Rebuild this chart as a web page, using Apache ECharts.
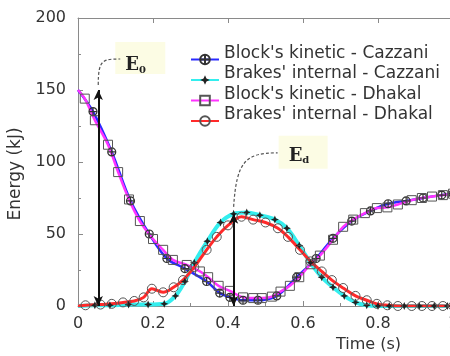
<!DOCTYPE html>
<html>
<head>
<meta charset="utf-8">
<script src="https://cdn.jsdelivr.net/npm/echarts@6/dist/echarts.min.js"></script>
<style>
  html, body { margin: 0; padding: 0; background: #fff; }
  #chart { width: 450px; height: 356px; }
</style>
</head>
<body>
<div id="chart"></div>
<script>
var seriesNames = ["Block's kinetic - Cazzani", "Brakes' internal - Cazzani", "Block's kinetic - Dhakal", "Brakes' internal - Dhakal"];

var kinCazzaniT = [0, 0.04, 0.09, 0.14, 0.19, 0.237, 0.285, 0.343, 0.378, 0.405, 0.44, 0.48, 0.53, 0.583, 0.635, 0.68, 0.73, 0.78, 0.827, 0.875, 0.92, 0.97, 1.0];
var kinCazzaniE = [150, 135, 107, 73, 50, 33, 26, 17, 9, 6, 4, 4, 7, 20, 33, 47, 59, 66, 71, 73, 75, 77, 78];

var brkCazzaniT = [0, 0.045, 0.085, 0.135, 0.187, 0.23, 0.26, 0.285, 0.31, 0.345, 0.38, 0.415, 0.45, 0.485, 0.525, 0.557, 0.59, 0.62, 0.65, 0.68, 0.71, 0.74, 0.77, 0.8, 0.83, 0.87, 0.91, 0.95, 0.985];
var brkCazzaniE = [0, 0.5, 0.5, 1, 1, 1.5, 7, 17, 30, 45, 58, 64, 65, 63, 60, 54, 42, 30, 20, 13, 7, 2.5, 0.5, 0, 0, 0, 0, 0, 0];

var kinDhakalT = [0, 0.018, 0.045, 0.08, 0.107, 0.136, 0.165, 0.2, 0.227, 0.253, 0.29, 0.325, 0.347, 0.375, 0.405, 0.44, 0.467, 0.49, 0.517, 0.54, 0.565, 0.59, 0.62, 0.645, 0.68, 0.707, 0.734, 0.765, 0.797, 0.825, 0.853, 0.89, 0.917, 0.944, 0.973, 1.0];
var kinDhakalE = [150, 144, 129, 112, 93, 74, 59, 46.5, 39, 32, 28.5, 24, 20, 14, 10.5, 6, 5.5, 5.5, 6.5, 10, 14, 20, 29, 35, 46, 55, 60, 64.5, 68, 68.5, 70.5, 73.5, 75, 76, 77, 78];

var brkDhakalT = [0, 0.02, 0.06, 0.09, 0.12, 0.15, 0.175, 0.197, 0.227, 0.255, 0.28, 0.31, 0.343, 0.37, 0.4, 0.436, 0.467, 0.5, 0.533, 0.56, 0.592, 0.62, 0.65, 0.677, 0.707, 0.74, 0.77, 0.797, 0.825, 0.853, 0.89, 0.917, 0.944, 0.973, 1.0];
var brkDhakalE = [0, 0.5, 1, 1.5, 2.5, 3.5, 6, 12, 9.5, 13, 18, 27, 39, 48, 56, 62, 60, 58, 54, 48, 39, 31, 24, 18, 12.5, 7, 4, 1.5, 0.5, 0, 0, 0, 0, 0, 0];

// annotated points: E0 and Ed
var e0Point = [0.054, 150];
var edPoint = [0.415, 64];

var xTicks = [0, 0.2, 0.4, 0.6, 0.8, 1];
var yTicks = [0, 50, 100, 150, 200];

function pairs(t, e) {
  return t.map(function(v, i) {
    if (v === 0) return { value: [v, e[i]], symbol: 'none' };
    return [v, e[i]];
  });
}

var font = 'DejaVu Sans';
var axisGray = '#8a8a8a';
var crossCircle = 'path://M0,10 A10,10 0 1,1 20,10 A10,10 0 1,1 0,10 Z M0,10 L20,10 M10,0 L10,20';
var starDiamond = 'path://M10,0 L13,7 L20,10 L13,13 L10,20 L7,13 L0,10 L7,7 Z';

var chart = echarts.init(document.getElementById('chart'), null, { renderer: 'canvas' });

chart.setOption({
  animation: false,
  backgroundColor: '#fff',
  grid: { left: 78, right: -3, top: 18, bottom: 50, outerBoundsMode: 'none', containLabel: false },
  legend: {
    orient: 'vertical',
    left: 190,
    top: 45,
    padding: 0,
    itemWidth: 28,
    itemHeight: 12,
    itemGap: -3.5,
    data: seriesNames,
    // a short blank second line lifts the name above the sample line, as in the source figure
    formatter: function(name) { return '{t|' + name + '}\n{s| }'; },
    textStyle: {
      fontFamily: font, fontSize: 17, color: '#333',
      rich: {
        t: { fontFamily: font, fontSize: 17, color: '#333', lineHeight: 17 },
        s: { fontSize: 2, lineHeight: 12 }
      }
    }
  },
  xAxis: [{
    type: 'value',
    min: xTicks[0],
    max: xTicks[xTicks.length - 1],
    interval: 0.2,
    name: 'Time (s)',
    nameLocation: 'middle',
    nameGap: 31,
    nameTextStyle: { fontFamily: font, fontSize: 16, color: '#333', padding: [0, 0, 0, 206] },
    axisLine: { lineStyle: { color: axisGray } },
    axisTick: { inside: true, length: 5, lineStyle: { color: axisGray } },
    minorTick: { show: true, splitNumber: 2, length: 3, lineStyle: { color: axisGray } },
    splitLine: { show: false },
    axisLabel: {
      fontFamily: font, fontSize: 16, color: '#333', margin: 10, showMaxLabel: true,
      formatter: function(v) { return String(+v.toFixed(1)); }
    }
  }, {
    type: 'value',
    position: 'top',
    min: xTicks[0],
    max: xTicks[xTicks.length - 1],
    interval: 0.2,
    axisLine: { onZero: false, lineStyle: { color: axisGray } },
    axisTick: { inside: true, length: 5, lineStyle: { color: axisGray } },
    axisLabel: { show: false },
    splitLine: { show: false }
  }],
  yAxis: {
    type: 'value',
    min: yTicks[0],
    max: yTicks[yTicks.length - 1],
    interval: 50,
    name: 'Energy (kJ)',
    nameLocation: 'middle',
    nameGap: 42,
    nameTextStyle: { fontFamily: font, fontSize: 17, color: '#333', padding: [0, 24, 0, 0] },
    axisLine: { show: true, lineStyle: { color: axisGray } },
    axisTick: { show: true, inside: true, length: 5, lineStyle: { color: axisGray } },
    minorTick: { show: true, splitNumber: 2, length: 3, lineStyle: { color: axisGray } },
    splitLine: { show: false },
    axisLabel: { fontFamily: font, fontSize: 16, color: '#333', margin: 12 }
  },
  series: [
    {
      name: seriesNames[0],
      type: 'line',
      smooth: 0.35,
      data: pairs(kinCazzaniT, kinCazzaniE),
      symbol: crossCircle,
      symbolSize: 8,
      lineStyle: { color: '#2a2aff', width: 2.5 },
      itemStyle: { color: 'rgba(0,0,0,0)', borderColor: '#333', borderWidth: 1.2 }
    },
    {
      name: seriesNames[1],
      type: 'line',
      smooth: 0.35,
      data: pairs(brkCazzaniT, brkCazzaniE),
      symbol: starDiamond,
      symbolSize: 8,
      lineStyle: { color: '#33eeee', width: 4 },
      itemStyle: { color: '#222' }
    },
    {
      name: seriesNames[2],
      type: 'line',
      smooth: 0.35,
      data: pairs(kinDhakalT, kinDhakalE),
      symbol: 'rect',
      symbolSize: 9,
      lineStyle: { color: '#ff33ff', width: 2.5 },
      itemStyle: { color: 'rgba(0,0,0,0)', borderColor: '#555', borderWidth: 1 }
    },
    {
      name: seriesNames[3],
      type: 'line',
      smooth: 0.35,
      data: pairs(brkDhakalT, brkDhakalE),
      symbol: 'circle',
      symbolSize: 9,
      lineStyle: { color: '#ff2a2a', width: 3 },
      itemStyle: { color: 'rgba(0,0,0,0)', borderColor: '#555', borderWidth: 1 },
      markLine: {
        silent: true,
        symbol: ['arrow', 'arrow'],
        symbolSize: [7, 10],
        label: { show: false },
        lineStyle: { color: '#111', width: 2, type: 'solid' },
        data: [
          [{ coord: [e0Point[0], 0] }, { coord: e0Point }],
          [{ coord: [edPoint[0], 0] }, { coord: edPoint }]
        ]
      }
    }
  ]
});

// dashed leaders and labels for E0 / Ed, anchored at the arrow tips
function note(pt, box, curve, textPos, sub) {
  var p = chart.convertToPixel({ gridIndex: 0 }, pt);
  return [
    {
      type: 'rect',
      shape: { x: p[0] + box[0], y: p[1] + box[1], width: box[2], height: box[3] },
      style: { fill: '#fcfce4' }
    },
    {
      type: 'bezierCurve',
      shape: {
        x1: p[0] + curve[0], y1: p[1] + curve[1],
        cpx1: p[0] + curve[2], cpy1: p[1] + curve[3],
        cpx2: p[0] + curve[4], cpy2: p[1] + curve[5],
        x2: p[0] + curve[6], y2: p[1] + curve[7]
      },
      style: { stroke: '#555', lineWidth: 1.2, lineDash: [3, 2], fill: null }
    },
    {
      type: 'text',
      x: p[0] + textPos[0],
      y: p[1] + textPos[1],
      style: {
        text: '{a|E}{b|' + sub + '}',
        verticalAlign: 'middle',
        rich: {
          a: { fontFamily: 'DejaVu Serif', fontWeight: 'bold', fontSize: 18, fill: '#222', lineHeight: 20 },
          b: { fontFamily: 'DejaVu Serif', fontWeight: 'bold', fontSize: 10, fill: '#222', lineHeight: 12, verticalAlign: 'bottom' }
        }
      }
    }
  ];
}

chart.setOption({
  graphic: [].concat(
    note(e0Point, [17, -48, 50, 32], [0, -5, 0, -30, 4, -31, 22, -31], [27, -25], '0'),
    note(edPoint, [45, -78, 49, 33], [0, -7, 3, -53, 12, -61, 44, -61], [55, -58], 'd')
  )
});

window.addEventListener('resize', function() { chart.resize(); });
</script>
</body>
</html>
